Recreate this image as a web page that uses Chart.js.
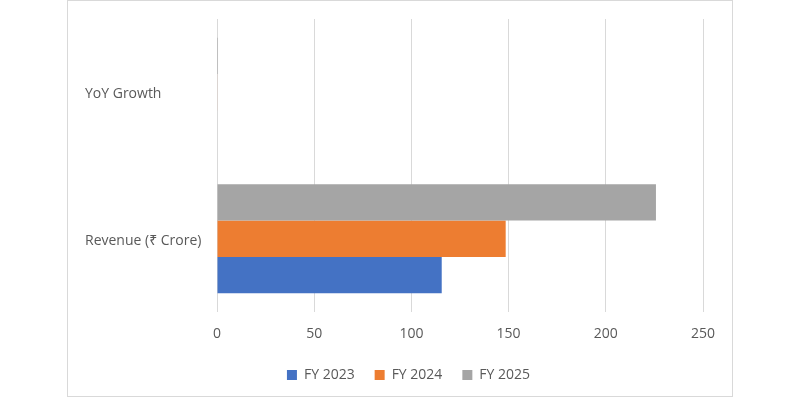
<!DOCTYPE html>
<html>
<head>
<meta charset="utf-8">
<script src="https://cdn.jsdelivr.net/npm/chart.js@4.4.6/dist/chart.umd.min.js"></script>
<style>
  html, body { margin: 0; padding: 0; background: #fff; }
  #frame {
    position: absolute; left: 67px; top: 0px;
    width: 664px; height: 395px;
    border: 1px solid #d9d9d9;
  }
</style>
</head>
<body>
<div id="frame"><canvas id="chart" width="664" height="395"></canvas></div>
<script>
/* data */
const categories = ["YoY Growth", "Revenue (₹ Crore)"];
const fy2023 = [null, 115.6];
const fy2024 = [0.28, 148.5];
const fy2025 = [0.52, 225.8];
const xTicks = [0, 50, 100, 150, 200, 250];

const colors = { fy2023: "#4472C4", fy2024: "#ED7D31", fy2025: "#A5A5A5" };
const font = { family: "'Open Sans', 'Noto Sans', sans-serif", size: 14 };
const textColor = "#595959";

const ctx = document.getElementById("chart");

new Chart(ctx, {
  type: "bar",
  data: {
    labels: categories,
    // top bar first, so FY 2025 comes first; legend is reversed below
    datasets: [
      { label: "FY 2025", data: fy2025, backgroundColor: colors.fy2025 },
      { label: "FY 2024", data: fy2024, backgroundColor: colors.fy2024 },
      { label: "FY 2023", data: fy2023, backgroundColor: colors.fy2023 },
    ],
  },
  options: {
    indexAxis: "y",
    responsive: false,
    animation: false,
    datasets: {
      bar: { categoryPercentage: 0.745, barPercentage: 1.0 },
    },
    layout: { padding: { left: 17, right: 0, top: 18, bottom: 4 } },
    plugins: {
      legend: {
        position: "bottom",
        reverse: true,
        labels: {
          boxWidth: 10, boxHeight: 10, padding: 20,
          color: textColor, font: font,
        },
      },
      tooltip: { enabled: false },
    },
    scales: {
      x: {
        min: 0, max: 250,
        afterBuildTicks: (axis) => { axis.ticks = xTicks.map(v => ({ value: v })); },
        afterFit: (axis) => { axis.height = 36; axis.paddingRight = 29; },
        grid: { color: "#d9d9d9", drawTicks: false },
        border: { display: false },
        ticks: { color: textColor, font: font, padding: 14 },
      },
      y: {
        grid: { display: false },
        border: { display: false },
        afterFit: (axis) => { axis.width = 132; },
        ticks: { color: textColor, font: font, crossAlign: "far", labelOffset: 2 },
      },
    },
  },
});
</script>
</body>
</html>
